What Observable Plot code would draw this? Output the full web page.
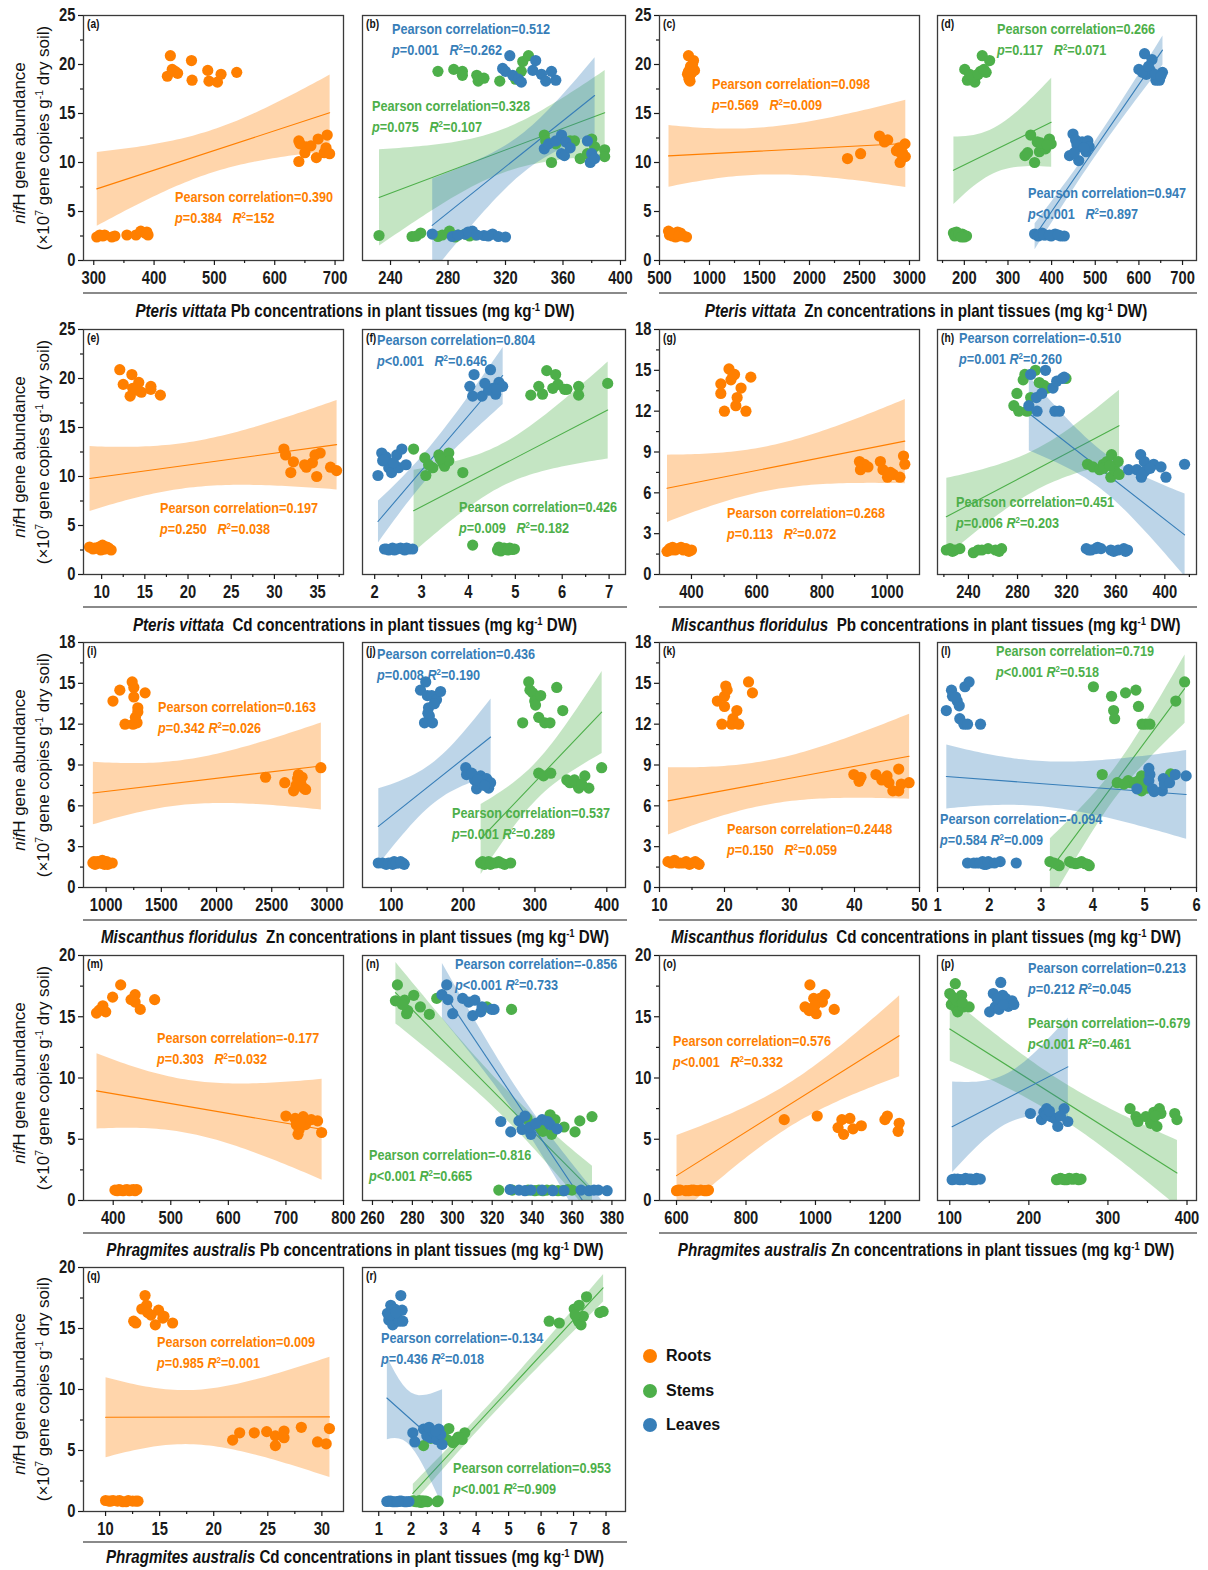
<!DOCTYPE html>
<html><head><meta charset="utf-8">
<script src="https://cdn.jsdelivr.net/npm/d3@7"></script>
<script src="https://cdn.jsdelivr.net/npm/@observablehq/plot@0.6"></script>
<style>
body{margin:0;background:#fff;}
#root{position:relative;width:1208px;height:1570px;overflow:hidden;font-family:"Liberation Sans",Arial,sans-serif;color:#111;}
.abs{position:absolute;white-space:nowrap;}
.ann{font-weight:bold;font-size:15px;line-height:16px;transform:scaleX(0.845);transform-origin:0 50%;}
sup{font-size:62%;position:relative;top:-0.55em;vertical-align:baseline;line-height:0;}
.plab{font-weight:bold;font-size:12px;line-height:12px;transform:scaleX(0.85);transform-origin:0 50%;}
.xt{font-weight:bold;font-size:18.5px;line-height:20px;transform:translate(-50%,-50%) scaleX(0.82);}
.yt{font-weight:normal;font-size:17px;line-height:20px;transform:translate(-50%,-50%) rotate(-90deg);color:#111;}
.rule{height:0;border-top:2px solid #8a8a8a;}
.leg{font-weight:bold;font-size:16px;line-height:18px;}
</style></head><body><div id="root"></div><script>
// ---------- data (x = metal concentration, y = nifH abundance) ----------
const a_roots=[[305,2.4],[310,2.6],[318,2.6],[330,2.4],[335,2.5],[355,2.6],[370,2.6],[378,3.0],[385,2.8],[390,2.6],[388,2.9],[315,2.5],
[427,20.9],[422,18.8],[430,19.5],[439,19.1],[462,20.4],[463,18.4],[489,19.4],[491,18.3],[505,18.2],[511,19.0],[537,19.2],[435,19.3],
[640,12.2],[642,11.9],[652,11.6],[650,11.0],[640,10.1],[672,12.4],[687,12.8],[669,10.5],[682,11.0],[685,11.5],[691,10.9],[660,11.7]];
const b_stems=[[232,2.55],[255,2.45],[261,2.8],[273,2.45],[281,3.0],[285,2.4],[292,2.7],[299,2.6],[276,2.6],[287,2.6],[295,2.5],[258,2.5],
[273,19.3],[284,19.5],[290,19.3],[290,18.9],[300,18.9],[301,18.3],[316,18.3],[331,19.3],[332,20.3],[336,20.9],[327,18.5],[305,18.6],
[347,12.8],[348,12.2],[352,10.0],[355,11.9],[365,12.2],[368,12.2],[372,10.4],[377,10.9],[380,12.4],[382,11.6],[389,11.3],[389,10.6]];
const b_leaves=[[269,2.7],[283,2.45],[292,2.7],[297,3.0],[294,2.9],[305,2.55],[311,2.7],[315,2.45],[320,2.4],[287,2.6],[300,2.6],[308,2.5],
[323,20.9],[341,20.4],[318,19.6],[320,19.3],[325,18.9],[329,18.5],[331,18.2],[339,19.4],[345,19.0],[348,18.3],[352,19.3],[355,18.4],
[347,11.4],[350,11.9],[355,12.2],[359,12.8],[359,10.9],[361,10.7],[362,12.1],[377,12.2],[379,10.0],[380,10.9],[382,10.4],[365,11.5]];
const c_roots=[[590,3.0],[600,2.6],[630,2.5],[660,2.4],[680,2.9],[700,2.6],[710,2.8],[770,2.4],[650,2.7],[620,2.8],[690,2.5],[740,2.5],
[790,20.9],[840,20.4],[815,19.6],[850,19.4],[780,19.0],[800,18.8],[805,18.3],[825,19.2],[795,18.5],[810,19.8],[830,20.0],[790,19.3],
[2380,10.4],[2511,10.9],[2700,12.7],[2782,12.3],[2750,12.1],[2869,11.2],[2918,10.9],[2906,10.0],[2955,11.9],[2958,10.6],[2895,11.5],[2930,11.0]];
const d_stems=[[175,2.8],[178,2.5],[182,2.9],[186,2.6],[190,2.5],[195,2.7],[200,2.4],[205,2.5],[198,2.6],[180,2.6],[188,2.7],[193,2.4],
[201,19.5],[207,18.4],[224,18.2],[228,18.9],[237,19.3],[241,20.9],[250,19.2],[258,20.4],[220,18.7],[212,19.0],[232,19.0],[245,19.5],
[339,10.7],[352,12.8],[361,10.0],[367,12.1],[372,11.1],[378,11.6],[386,11.4],[395,12.4],[399,11.9],[345,11.0],[375,12.0],[390,11.8]];
const d_leaves=[[361,2.7],[369,2.5],[378,2.8],[386,2.6],[399,2.5],[408,2.7],[421,2.5],[429,2.5],[372,2.6],[382,2.6],[395,2.6],[415,2.6],
[441,10.7],[449,12.9],[455,12.3],[462,10.2],[466,11.6],[470,12.1],[479,11.1],[483,12.2],[486,11.6],[458,11.8],[474,11.5],[452,11.0],
[600,19.5],[613,21.1],[617,19.0],[626,19.4],[630,20.5],[639,18.4],[647,18.4],[654,19.2],[608,19.2],[622,19.8],[636,19.0],[650,18.8]];
const e_roots=[[8.6,2.8],[9.0,2.6],[9.5,2.7],[9.9,2.5],[10.1,3.0],[10.4,2.6],[10.8,2.7],[11.1,2.5],[9.7,2.8],[9.2,2.7],[10.6,2.8],[10.2,2.6],
[12.1,20.9],[12.5,19.4],[13.3,18.2],[13.5,20.4],[13.6,19.0],[14.3,19.6],[14.6,18.6],[15.7,19.2],[15.7,18.9],[16.8,18.3],[13.9,19.0],[14.0,18.8],
[31.1,12.8],[31.3,12.2],[32.2,11.5],[31.9,10.4],[33.7,10.95],[34.4,11.4],[34.7,12.2],[35.3,12.4],[34.9,10.0],[36.5,10.95],[37.2,10.6],[33.5,11.2]];
const f_stems=[[2.83,12.8],[3.07,11.9],[3.09,10.1],[3.24,10.9],[3.37,12.2],[3.45,11.4],[3.49,11.05],[3.58,12.4],[3.58,11.6],[3.88,10.4],[3.15,11.2],[3.4,11.8],
[5.33,18.3],[5.50,19.2],[5.58,18.4],[5.67,20.8],[5.86,20.4],[5.91,19.4],[6.10,18.9],[6.35,19.2],[6.35,18.3],[6.97,19.5],[6.05,18.9],[5.8,19.0],
[4.09,3.0],[4.65,2.8],[4.69,2.4],[4.80,2.55],[4.88,2.7],[4.94,2.55],[4.72,2.6],[4.76,2.7],[4.84,2.5],[4.90,2.6],[4.62,2.5],[4.98,2.6]];
const f_leaves=[[2.21,2.6],[2.30,2.5],[2.38,2.7],[2.47,2.6],[2.55,2.7],[2.64,2.5],[2.73,2.6],[2.81,2.6],[2.25,2.6],[2.42,2.5],[2.6,2.6],[2.68,2.7],
[2.07,10.1],[2.15,12.4],[2.17,11.6],[2.24,12.0],[2.30,10.9],[2.36,10.4],[2.47,12.2],[2.51,10.9],[2.58,12.8],[2.67,11.2],[2.20,11.7],[2.4,11.4],
[4.03,19.2],[4.12,20.4],[4.09,18.2],[4.29,18.2],[4.47,20.9],[4.52,19.0],[4.58,18.4],[4.65,19.6],[4.73,19.2],[4.43,18.8],[4.35,19.5],[4.6,18.9]];
const g_roots=[[325,1.7],[333,1.9],[342,2.0],[350,1.8],[360,1.9],[368,2.0],[375,1.8],[383,1.9],[392,1.7],[400,1.8],[338,1.8],[388,1.8],
[490,14.0],[490,13.3],[501,12.0],[515,15.1],[521,14.3],[532,14.7],[536,12.4],[540,13.0],[552,13.7],[567,12.0],[582,14.5],[527,14.6],
[915,8.3],[918,7.7],[930,8.1],[941,7.9],[979,8.3],[987,7.7],[1001,7.15],[1019,7.35],[1039,7.15],[1050,8.7],[1054,8.1],[1010,7.5]];
const h_stems=[[222,1.8],[225,1.9],[229,1.8],[233,1.9],[244,1.6],[251,1.8],[256,1.9],[265,1.7],[267,1.9],[227,1.7],[248,1.8],[262,1.8],
[277,12.4],[279.5,13.3],[281,12.0],[284.6,14.3],[286,14.7],[287.7,12.0],[290.7,13.0],[294.6,15.0],[297.7,14.1],[301.3,13.9],[304.4,13.7],[319.5,14.4],
[337,8.1],[341.4,7.9],[346.9,7.7],[349.9,8.1],[352.9,8.3],[356.6,8.8],[356,7.15],[359,7.7],[362,8.3],[362.7,7.35],[350,7.8],[355,8.0]];
const h_leaves=[[290.7,14.7],[289.2,12.4],[295.3,13.0],[295.9,12.0],[299.8,13.3],[302.8,15.0],[308.9,13.7],[310.4,12.0],[311.9,14.2],[314.1,12.0],[316.5,14.4],[318,14.5],
[336,1.9],[340,1.8],[343.8,1.9],[345.3,2.0],[356,1.8],[358.4,1.7],[366.6,1.9],[369.6,1.8],[338,1.8],[348,1.9],[362,1.8],[368,1.7],
[370.5,7.7],[377.2,7.7],[380.3,8.8],[380.9,7.15],[383.3,8.3],[383.9,7.6],[390.9,8.1],[396.9,7.9],[400.9,7.15],[416.1,8.1],[381.5,7.35],[388,7.8]];
const i_roots=[[880,1.8],[900,1.7],[920,1.9],[945,1.8],[965,2.0],[985,1.7],[1005,1.9],[1030,1.8],[1055,1.8],[890,1.9],[955,1.8],[1015,1.7],
[1062,13.7],[1124,14.5],[1236,15.1],[1251,14.7],[1251,14.0],[1287,13.2],[1287,12.9],[1171,12.0],[1244,12.0],[1280,12.1],[1353,14.3],[1265,12.5],
[2444,8.1],[2618,7.7],[2698,7.1],[2734,8.0],[2742,8.3],[2764,7.6],[2789,7.3],[2807,7.2],[2945,8.8],[2750,7.8],[2775,8.1],[2720,7.5]];
const j_stems=[[224.4,1.8],[230,1.7],[235.5,1.9],[241,1.8],[249.5,1.9],[257.8,1.7],[266.2,1.8],[227,1.9],[233,1.8],[238,1.7],[245,1.8],[253,1.8],
[282.9,12.1],[291.3,15.1],[293,14.5],[296.9,14.3],[299.7,13.7],[300.8,13.4],[305.2,12.5],[308,14.1],[313.6,12.1],[320.9,12.1],[330.3,14.7],[338.7,13.0],
[305.2,8.4],[311.9,8.2],[322,8.4],[344.3,7.9],[348.7,7.7],[358.2,7.6],[361,7.3],[369.4,8.2],[375,7.3],[392.8,8.8],[355,7.9],[365,7.6]];
const j_leaves=[[82,1.8],[93,1.7],[99,1.8],[104,1.9],[110,1.8],[116,1.8],[118,1.7],[88,1.8],[96,1.8],[102,1.7],[107,1.8],[113,1.9],
[140.7,14.5],[148,15.1],[150.2,14.1],[151.9,13.2],[153,12.6],[146.3,12.1],[157.4,12.1],[156.3,14.1],[163,13.8],[168.6,14.4],[151,12.8],[160,13.5],
[203.7,8.8],[204.8,8.3],[216,7.9],[218.8,7.25],[224.4,8.2],[227.2,7.6],[232.7,8.0],[235.5,7.3],[238.3,7.7],[212,8.4],[220,7.9],[230,7.5]];
const k_roots=[[11.3,1.9],[12.3,2.0],[13.2,1.8],[14.1,1.9],[14.6,1.7],[15.5,1.9],[16.1,1.7],[12.8,1.8],[11.8,1.8],[13.7,1.8],[15.0,1.8],[15.8,1.8],
[18.9,13.7],[19.6,12.0],[20.0,14.05],[20.2,14.8],[20.0,13.3],[20.4,14.5],[21.1,12.0],[21.3,12.4],[21.9,13.0],[22.2,12.0],[23.7,15.1],[24.3,14.3],
[39.9,8.3],[40.7,7.8],[41.0,8.1],[43.3,8.3],[45.0,8.2],[45.3,7.7],[45.9,7.1],[46.8,8.7],[46.8,7.1],[47.2,7.6],[48.4,7.7],[44.2,7.9]];
const l_stems=[[4.01,14.75],[4.36,14.05],[4.40,13.0],[4.42,12.4],[4.63,14.3],[4.83,14.5],[4.88,13.3],[4.95,12.0],[5.02,12.0],[5.10,12.0],[5.60,13.7],[5.77,15.1],
[4.18,8.3],[4.47,7.7],[4.68,7.85],[4.83,7.75],[4.94,8.2],[4.94,7.1],[5.02,7.5],[5.50,8.35],[4.73,7.7],[4.9,7.9],[5.05,7.3],[4.6,7.6],
[3.17,1.9],[3.31,1.7],[3.35,1.6],[3.55,1.9],[3.67,1.75],[3.78,1.9],[3.85,1.75],[3.93,1.6],[3.25,1.8],[3.6,1.8],[3.72,1.8],[3.9,1.7]];
const l_leaves=[[1.17,13.0],[1.27,14.5],[1.29,14.05],[1.38,13.7],[1.42,13.35],[1.43,12.4],[1.51,12.0],[1.53,14.75],[1.58,12.0],[1.61,15.1],[1.83,12.0],[1.35,14.0],
[1.58,1.8],[1.76,1.8],[1.87,1.9],[1.94,1.7],[2.01,1.8],[2.21,1.9],[2.52,1.8],[1.9,1.7],[1.7,1.8],[1.82,1.8],[1.98,1.9],[2.1,1.8],
[4.85,7.25],[5.08,8.75],[5.10,8.3],[5.08,7.85],[5.15,7.25],[5.34,7.1],[5.36,8.0],[5.38,7.6],[5.48,7.7],[5.59,8.3],[5.80,8.2],[5.18,7.05]];
const m_roots=[[403,0.85],[410,0.9],[417,0.8],[424,0.9],[431,0.85],[438,0.8],[441,0.9],[413,0.85],[407,0.8],[420,0.85],[428,0.8],[435,0.9],
[371,15.3],[378,15.6],[382,15.9],[387,15.4],[399,16.6],[413,17.6],[431,16.4],[438,16.8],[438,16.2],[447,15.6],[472,16.4],[375,15.5],
[700,6.9],[716,6.7],[718,6.2],[721,5.4],[723,5.8],[727,6.45],[730,6.85],[734,6.2],[744,6.6],[755,6.5],[762,5.55],[725,6.3]];
const n_stems=[[271.5,16.3],[272.5,17.6],[276.1,16.35],[277.1,15.25],[277.7,15.5],[280.7,16.75],[288.5,15.2],[292.2,16.5],[317.3,15.8],[329.7,15.6],[284,15.8],[275,16.0],
[337.4,6.7],[344.4,5.9],[345.4,5.65],[349,7.0],[349.8,5.4],[351.5,6.6],[361.5,5.6],[363.9,6.5],[370,6.85],[340,6.2],[347,6.3],[356,6.0],
[323.3,0.85],[341.4,0.8],[343.4,0.85],[345.4,0.8],[347.4,0.85],[355.5,0.8],[357.9,0.9],[338,0.85],[350,0.85],[353,0.8],[330,0.85],[360,0.85]];
const n_leaves=[[294.8,16.8],[297.2,17.6],[297.8,16.4],[300.2,15.25],[305.2,16.5],[308.2,16.2],[311.3,16.35],[310.3,15.1],[314.3,15.4],[314.9,15.8],[319.7,15.6],[320.9,15.6],
[324.3,6.45],[329.3,5.6],[333.4,6.5],[335,5.8],[336.4,6.9],[339.4,5.4],[339,6.0],[345,6.6],[347.8,6.45],[349,6.2],[352.5,5.85],[342,6.3],
[329,0.9],[333.4,0.85],[336.4,0.8],[339.4,0.85],[350.4,0.8],[364.5,0.85],[368.5,0.8],[373.2,0.85],[377.6,0.8],[345,0.85],[356,0.8],[371,0.85]];
const o_roots=[[600,0.8],[611,0.85],[627,0.8],[643,0.85],[659,0.8],[670,0.85],[681,0.8],[692,0.85],[605,0.85],[635,0.8],[650,0.85],[687,0.8],
[970,15.8],[984,17.6],[982,15.5],[995,16.5],[1002,15.25],[1011,16.3],[1013,16.5],[1027,16.8],[1054,15.6],[991,15.7],[1020,16.2],[998,15.9],
[910,6.6],[1005,6.9],[1065,5.95],[1076,6.6],[1081,5.4],[1099,6.7],[1108,5.85],[1132,6.1],[1200,6.6],[1207,6.9],[1238,5.65],[1241,6.3]];
const p_stems=[[100,16.9],[102,16.0],[107,17.7],[108,15.7],[110,15.4],[113,16.5],[115,16.75],[117,15.8],[124.5,15.8],[109,16.3],[116,16.15],[104,16.6],
[235,1.7],[242,1.75],[248,1.7],[254,1.75],[260,1.8],[266,1.75],[238,1.75],[245,1.7],[251,1.8],[257,1.75],[263,1.7],[240,1.8],
[328,7.5],[335.5,6.85],[338,6.45],[348,6.85],[354,6.3],[358,7.2],[362,6.05],[365,7.5],[367,7.1],[384.5,7.1],[387.3,6.6],[360,6.9]];
const p_leaves=[[150.4,15.4],[155.1,16.9],[157.5,15.8],[162.2,15.6],[164.5,17.8],[166.9,16.75],[170.7,16.5],[174,15.85],[178.7,16.3],[181,16.0],[160,16.5],[168,16.0],
[103,1.7],[110,1.75],[117,1.7],[124.5,1.75],[129,1.7],[134,1.8],[138.6,1.75],[106,1.75],[113,1.7],[120,1.8],[127,1.75],[132,1.7],
[202,7.1],[216,6.6],[219,7.2],[222.5,7.5],[228,6.85],[233,6.7],[236.6,6.05],[244.6,7.5],[249.3,6.45],[222,7.0],[226,7.3],[240,6.9]];
const q_roots=[[10,0.9],[10.3,0.85],[10.7,0.9],[11.1,0.85],[11.6,0.8],[12.1,0.9],[12.5,0.85],[13.0,0.85],[10.5,0.85],[11.3,0.9],[11.9,0.8],[12.8,0.85],
[12.6,15.6],[12.8,15.45],[13.35,16.6],[13.65,17.7],[13.8,16.9],[13.9,16.3],[14.6,15.3],[14.9,16.5],[15.3,15.85],[15.4,16.0],[16.2,15.45],[14.2,16.1],
[21.75,5.85],[22.4,6.45],[23.75,6.45],[24.9,6.55],[25.7,6.2],[25.7,5.4],[26.5,6.6],[26.5,6.05],[28.1,6.9],[29.6,5.7],[30.4,5.55],[30.7,6.8]];
const r_stems=[[2.05,0.87],[2.30,0.74],[2.36,0.87],[2.83,0.87],[2.1,0.85],[2.2,0.8],[2.4,0.8],[2.45,0.85],[2.25,0.9],[2.15,0.8],[2.5,0.8],[2.8,0.8],
[2.38,5.4],[2.95,6.2],[3.16,6.8],[3.28,5.65],[3.37,5.85],[3.57,5.9],[3.65,6.45],[2.6,6.0],[3.0,6.5],[3.45,6.1],[3.1,5.9],[2.7,6.4],
[6.25,15.6],[6.56,15.45],[7.02,16.6],[7.11,15.9],[7.17,16.9],[7.23,15.3],[7.40,17.6],[7.81,16.3],[7.91,16.4],[7.15,15.6],[7.3,16.0],[7.05,16.1]];
const r_leaves=[[1.27,16.25],[1.31,15.7],[1.37,16.9],[1.43,15.3],[1.49,16.6],[1.56,16.0],[1.62,15.6],[1.68,17.7],[1.72,16.5],[1.74,15.6],[1.35,16.1],[1.52,16.3],
[1.25,0.82],[1.37,0.85],[1.49,0.8],[1.64,0.85],[1.80,0.8],[1.93,0.82],[1.3,0.85],[1.43,0.8],[1.56,0.8],[1.7,0.85],[1.86,0.8],[1.6,0.82],
[2.05,6.45],[2.11,5.7],[2.38,6.75],[2.48,6.2],[2.60,6.05],[2.70,6.45],[2.79,5.9],[2.85,6.75],[2.91,6.3],[2.95,5.5],[2.55,6.9],[2.75,6.6]];

// tick labels
const yTicks25=[0,5,10,15,20,25], yMinor25=[2.5,7.5,12.5,17.5,22.5];
const yTicks18=[0,3,6,9,12,15,18], yMinor18=[1.5,4.5,7.5,10.5,13.5,16.5];
const yTicks20=[0,5,10,15,20], yMinor20=[2.5,7.5,12.5,17.5];

// statistics text: [panel, group, r, p, R2, wide gap?]
const stats=[
 ["a","Roots","0.390","=0.384","152",true],
 ["b","Leaves","0.512","=0.001","0.262",true],["b","Stems","0.328","=0.075","0.107",true],
 ["c","Roots","0.098","=0.569","0.009",true],
 ["d","Stems","0.266","=0.117","0.071",true],["d","Leaves","0.947","<0.001","0.897",true],
 ["e","Roots","0.197","=0.250","0.038",true],
 ["f","Leaves","0.804","<0.001","0.646",true],["f","Stems","0.426","=0.009","0.182",true],
 ["g","Roots","0.268","=0.113","0.072",true],
 ["h","Leaves","-0.510","=0.001","0.260",false],["h","Stems","0.451","=0.006","0.203",false],
 ["i","Roots","0.163","=0.342","0.026",false],
 ["j","Leaves","0.436","=0.008","0.190",false],["j","Stems","0.537","=0.001","0.289",false],
 ["k","Roots","0.2448","=0.150","0.059",true],
 ["l","Stems","0.719","<0.001","0.518",false],["l","Leaves","-0.094","=0.584","0.009",false],
 ["m","Roots","-0.177","=0.303","0.032",true],
 ["n","Leaves","-0.856","<0.001","0.733",false],["n","Stems","-0.816","<0.001","0.665",false],
 ["o","Roots","0.576","<0.001","0.332",true],
 ["p","Leaves","0.213","=0.212","0.045",false],["p","Stems","-0.679","<0.001","0.461",false],
 ["q","Roots","0.009","=0.985","0.001",false],
 ["r","Leaves","-0.134","=0.436","0.018",false],["r","Stems","0.953","<0.001","0.909",false]
];
// text placement (page px: left, centre of first line) — layout only
const statPos=[[175,197],[392,29],[372,106],[712,84],[997,29],[1028,193],[160,508],[377,340],[459,507],[727,513],
 [959,338],[956,502],[158,707],[377,654],[452,813],[727,829],[996,651],[940,819],[157,1038],[455,964],[369,1155],
 [673,1041],[1028,968],[1028,1023],[157,1342],[381,1338],[453,1468]];

const xTitles=[
 ["<i>Pteris vittata</i> Pb concentrations in plant tissues (mg kg<sup>-1</sup> DW)",0,0],
 ["<i>Pteris vittata</i>&nbsp; Zn concentrations in plant tissues (mg kg<sup>-1</sup> DW)",0,1],
 ["<i>Pteris vittata</i>&nbsp; Cd concentrations in plant tissues (mg kg<sup>-1</sup> DW)",1,0],
 ["<i>Miscanthus floridulus</i>&nbsp; Pb concentrations in plant tissues (mg kg<sup>-1</sup> DW)",1,1],
 ["<i>Miscanthus floridulus</i>&nbsp; Zn concentrations in plant tissues (mg kg<sup>-1</sup> DW)",2,0],
 ["<i>Miscanthus floridulus</i>&nbsp; Cd concentrations in plant tissues (mg kg<sup>-1</sup> DW)",2,1],
 ["<i>Phragmites australis</i> Pb concentrations in plant tissues (mg kg<sup>-1</sup> DW)",3,0],
 ["<i>Phragmites australis</i> Zn concentrations in plant tissues (mg kg<sup>-1</sup> DW)",3,1],
 ["<i>Phragmites australis</i> Cd concentrations in plant tissues (mg kg<sup>-1</sup> DW)",4,0]
];
const groups=["Roots","Stems","Leaves"];
const COLORS={Roots:"#ff7f00",Stems:"#4daf4a",Leaves:"#377eb8"};

const panels=[
 {id:"a",row:0,col:0,xd:[283,714],xt:[300,400,500,600,700],xm:[350,450,550,650],yd:[0,25],yt:yTicks25,ym:yMinor25,g:[["Roots",a_roots]]},
 {id:"b",row:0,col:1,xd:[220.5,403.5],xt:[240,280,320,360,400],xm:[260,300,340,380],yd:[0,25],g:[["Stems",b_stems],["Leaves",b_leaves]]},
 {id:"c",row:0,col:2,xd:[500,3100],xt:[500,1000,1500,2000,2500,3000],xm:[750,1250,1750,2250,2750],yd:[0,25],yt:yTicks25,ym:yMinor25,g:[["Roots",c_roots]]},
 {id:"d",row:0,col:3,xd:[138.5,732],xt:[200,300,400,500,600,700],xm:[150,250,350,450,550,650],yd:[0,25],g:[["Stems",d_stems],["Leaves",d_leaves]]},
 {id:"e",row:1,col:0,xd:[7.9,38],xt:[10,15,20,25,30,35],xm:[12.5,17.5,22.5,27.5,32.5,37.5],yd:[0,25],yt:yTicks25,ym:yMinor25,g:[["Roots",e_roots]]},
 {id:"f",row:1,col:1,xd:[1.74,7.35],xt:[2,3,4,5,6,7],xm:[2.5,3.5,4.5,5.5,6.5],yd:[0,25],g:[["Stems",f_stems],["Leaves",f_leaves]]},
 {id:"g",row:1,col:2,xd:[302,1099],xt:[400,600,800,1000],xm:[500,700,900],yd:[0,18],yt:yTicks18,ym:yMinor18,g:[["Roots",g_roots]]},
 {id:"h",row:1,col:3,xd:[214.8,425.8],xt:[240,280,320,360,400],xm:[220,260,300,340,380,420],yd:[0,18],g:[["Stems",h_stems],["Leaves",h_leaves]]},
 {id:"i",row:2,col:0,xd:[795,3150],xt:[1000,1500,2000,2500,3000],xm:[1250,1750,2250,2750],yd:[0,18],yt:yTicks18,ym:yMinor18,g:[["Roots",i_roots]]},
 {id:"j",row:2,col:1,xd:[60,426],xt:[100,200,300,400],xm:[150,250,350],yd:[0,18],g:[["Stems",j_stems],["Leaves",j_leaves]]},
 {id:"k",row:2,col:2,xd:[10,50],xt:[10,20,30,40,50],xm:[15,25,35,45],yd:[0,18],yt:yTicks18,ym:yMinor18,g:[["Roots",k_roots]]},
 {id:"l",row:2,col:3,xd:[1,6],xt:[1,2,3,4,5,6],xm:[1.5,2.5,3.5,4.5,5.5],yd:[0,18],g:[["Stems",l_stems],["Leaves",l_leaves]]},
 {id:"m",row:3,col:0,xd:[348.4,800],xt:[400,500,600,700,800],xm:[450,550,650,750],yd:[0,20],yt:yTicks20,ym:yMinor20,g:[["Roots",m_roots]]},
 {id:"n",row:3,col:1,xd:[255,386.8],xt:[260,280,300,320,340,360,380],xm:[270,290,310,330,350,370],yd:[0,20],g:[["Stems",n_stems],["Leaves",n_leaves]]},
 {id:"o",row:3,col:2,xd:[551,1299.5],xt:[600,800,1000,1200],xm:[700,900,1100],yd:[0,20],yt:yTicks20,ym:yMinor20,g:[["Roots",o_roots]]},
 {id:"p",row:3,col:3,xd:[84.5,412],xt:[100,200,300,400],xm:[150,250,350],yd:[0,20],g:[["Stems",p_stems],["Leaves",p_leaves]]},
 {id:"q",row:4,col:0,xd:[7.96,32],xt:[10,15,20,25,30],xm:[12.5,17.5,22.5,27.5],yd:[0,20],yt:yTicks20,ym:yMinor20,g:[["Roots",q_roots]]},
 {id:"r",row:4,col:1,xd:[0.5,8.6],xt:[1,2,3,4,5,6,7,8],xm:[1.5,2.5,3.5,4.5,5.5,6.5,7.5],yd:[0,20],g:[["Stems",r_stems],["Leaves",r_leaves]]}
];

// ---------- layout ----------
const FONT='"Liberation Sans",Arial,sans-serif';
const NARROW=0.82;
const ROWS=[[15,260],[329,574],[642,887],[955,1200],[1267,1511]];
const TITLE_OFF=[[32,51],[32,51],[32,50],[32,50],[30,46]];
const COLS=[[83,343],[362,625],[659,919],[937,1196]];
const PAIR=[[83,627,355],[659,1197,926]];
const root=document.getElementById("root");
function addDiv(cls,html,left,top,extra){const d=document.createElement("div");d.className="abs "+cls;d.innerHTML=html;d.style.left=left+"px";d.style.top=top+"px";if(extra)Object.assign(d.style,extra);root.appendChild(d);return d;}
function narrowTexts(svg){
  svg.querySelectorAll("text").forEach(t=>{
    const xa=t.getAttribute("x");let x=0;
    if(xa!==null&&/^-?[\d.]+$/.test(xa)){x=+xa;t.removeAttribute("x");}
    const tr=t.getAttribute("transform")||"";
    t.setAttribute("transform",`${tr} translate(${x},0) scale(${NARROW},1)`);
  });
}

for(const p of panels){
  const [L,R]=COLS[p.col],[T,B]=ROWS[p.row];
  const left=p.col%2===0;
  const ml=left?45:6,mr=6,mt=6,mb=36;
  const marks=[];
  for(const [name,arr] of p.g){
    const data=arr.map(([x,y])=>({x,y}));
    marks.push(Plot.linearRegressionY(data,{x:"x",y:"y",stroke:COLORS[name],fill:COLORS[name],fillOpacity:0.33,strokeWidth:1.1,clip:true}));
  }
  for(const [name,arr] of p.g){
    const data=arr.map(([x,y])=>({x,y}));
    marks.push(Plot.dot(data,{x:"x",y:"y",r:5.6,fill:COLORS[name],stroke:"none"}));
  }
  marks.push(Plot.frame({stroke:"#3a3a3a",strokeWidth:1.3}));
  const txt={fontSize:18,fontWeight:"bold",fontFamily:FONT,color:"#1a1a1a",strokeWidth:1.2,label:null};
  marks.push(Plot.axisX({...txt,ticks:p.xt,tickSize:5,tickPadding:6,tickFormat:d=>String(d)}));
  marks.push(Plot.axisX({...txt,ticks:p.xm,tickSize:3,tickFormat:()=>""}));
  if(left){
    marks.push(Plot.axisY({...txt,ticks:p.yt,tickSize:5,tickPadding:3,tickFormat:d=>String(d)}));
    marks.push(Plot.axisY({...txt,ticks:p.ym,tickSize:3,tickFormat:()=>""}));
  }
  const svg=Plot.plot({
    width:(R-L)+ml+mr,height:(B-T)+mt+mb,marginLeft:ml,marginRight:mr,marginTop:mt,marginBottom:mb,
    x:{domain:p.xd,label:null},y:left?{domain:p.yd,label:null}:{domain:p.yd,axis:null,label:null},
    style:{fontFamily:FONT,fontSize:"18px",fontWeight:"bold",color:"#1a1a1a",background:"transparent",overflow:"visible"},
    marks
  });
  narrowTexts(svg);
  const wrap=document.createElement("div");
  wrap.className="abs";wrap.style.left=(L-ml)+"px";wrap.style.top=(T-mt)+"px";wrap.style.width=((R-L)+ml+mr)+"px";
  wrap.appendChild(svg);root.appendChild(wrap);
  addDiv("plab","("+p.id+")",L+4,T+3);
}

stats.forEach((s,i)=>{
  const [id,grp,r,pv,r2,wide]=s;const [x,y]=statPos[i];
  const gap=wide?"&nbsp;&nbsp;&nbsp;":" ";
  addDiv("ann","Pearson correlation="+r,x,y-8,{color:COLORS[grp]});
  addDiv("ann","<i>p</i>"+pv+gap+"<i>R</i><sup>2</sup>="+r2,x,y+13,{color:COLORS[grp]});
});

for(const [html,row,pair] of xTitles){
  const B=ROWS[row][1];const [x1,x2,cx]=PAIR[pair];const [ro,to]=TITLE_OFF[row];
  addDiv("rule","",x1,B+ro,{width:(x2-x1)+"px"});
  addDiv("xt",html,cx,B+to);
}
ROWS.forEach(([T,B])=>{
  const cy=(T+B)/2;
  addDiv("yt","<i>nif</i>H gene abundance",20,cy+5);
  addDiv("yt","(×10<sup>7</sup> gene copies g<sup>-1</sup> dry soil)",44,cy);
});

// legend
const legY=[1356,1391,1425];
groups.forEach((g,i)=>{
  addDiv("",`<svg width="16" height="16"><circle cx="8" cy="8" r="7" fill="${COLORS[g]}"/></svg>`,642,legY[i]-8);
  addDiv("leg",g,666,legY[i]-9);
});
</script></body></html>
